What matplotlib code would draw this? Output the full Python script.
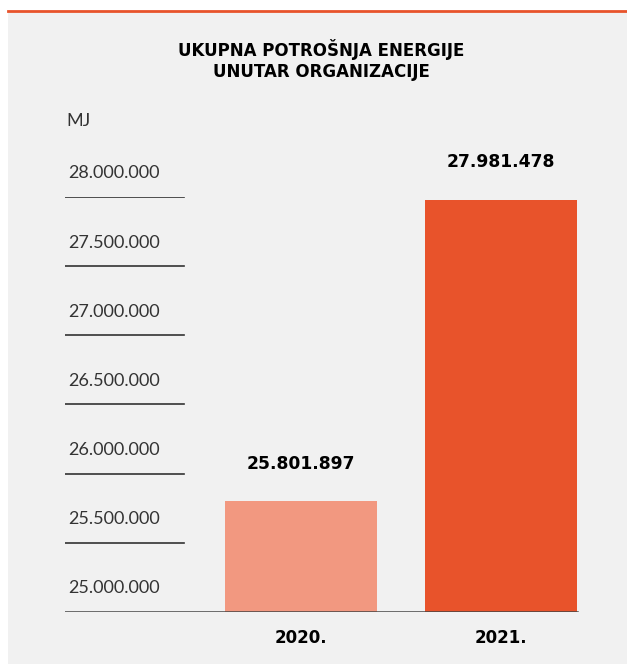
import matplotlib
matplotlib.use("Agg")
from matplotlib import pyplot as plt
from matplotlib.patches import Rectangle

years = ["2020.", "2021."]
values = [25801897, 27981478]
value_labels = ["25.801.897", "27.981.478"]
ticks = [25000000, 25500000, 26000000, 26500000, 27000000, 27500000, 28000000]
tick_labels = ["25.000.000", "25.500.000", "26.000.000", "26.500.000",
               "27.000.000", "27.500.000", "28.000.000"]
bar_colors = ["#f29880", "#e8532b"]

W, H = 627, 664
bg = "#f1f1f1"

fig = plt.figure(figsize=(W / 100, H / 100), dpi=100)
fig.patch.set_facecolor("white")
# gray panel and red top rule
fig.patches.append(Rectangle((8 / W, 0), 1 - 8 / W, (H - 12) / H,
                             transform=fig.transFigure, facecolor=bg, edgecolor="none", zorder=-5))
fig.lines.append(plt.Line2D([8 / W, 1], [(H - 11) / H, (H - 11) / H],
                            transform=fig.transFigure, color="#e8532b", lw=2, zorder=-4))

fig.text(321 / W, 1 - 49 / H, "UKUPNA POTROŠNJA ENERGIJE", ha="center", va="center",
         fontsize=12, fontweight="bold", family="DejaVu Sans")
fig.text(321 / W, 1 - 72 / H, "UNUTAR ORGANIZACIJE", ha="center", va="center",
         fontsize=12, fontweight="bold", family="DejaVu Sans")
fig.text(66 / W, 1 - 121 / H, "MJ", ha="left", va="center",
         fontsize=13, family="Lato", color="#333333")

left, right = 65, 627
bottom, top = 612, 197
ax = fig.add_axes([left / W, (H - bottom) / H, (right - left) / W, (bottom - top) / H])
ax.set_facecolor("none")
for s in ax.spines.values():
    s.set_visible(False)
ax.set_xticks([])
ax.set_yticks([])

x = [0, 1]
ax.bar(x, values, width=0.76, color=bar_colors, zorder=2)
ax.set_xlim(-1.18, 1.63)
ax.set_ylim(ticks[0], ticks[-1])

for t, lab in zip(ticks, tick_labels):
    if t != ticks[0]:
        ax.axhline(t, xmin=0, xmax=119 / (right - left), color="#333333", lw=1.2)
    ax.annotate(lab, (0.005, t), xycoords=("axes fraction", "data"),
                xytext=(0, 17), textcoords="offset points", ha="left", va="center",
                fontsize=13, family="Lato", color="#333333",
                annotation_clip=False)
ax.axhline(ticks[0], xmin=0, xmax=(577 - left) / (right - left), color="#444444", lw=1.8, zorder=3)

for xi, v, lab, yr in zip(x, values, value_labels, years):
    ax.annotate(lab, (xi, v), xytext=(0, 27), textcoords="offset points",
                ha="center", va="center", fontsize=12.3, fontweight="bold", family="DejaVu Sans",
                annotation_clip=False)
    ax.annotate(yr, (xi, ticks[0]), xytext=(0, -19), textcoords="offset points",
                ha="center", va="center", fontsize=12, fontweight="bold", family="DejaVu Sans",
                annotation_clip=False)

fig.savefig("out.png", dpi=100, facecolor="white")
